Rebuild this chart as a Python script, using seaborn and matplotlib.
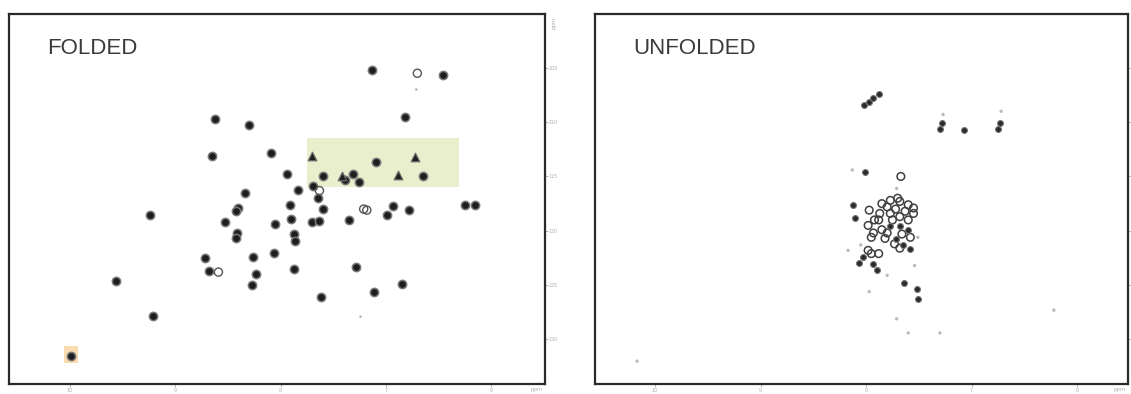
import numpy as np
import pandas as pd
import matplotlib
matplotlib.use("Agg")
import matplotlib.pyplot as plt
import seaborn as sns

# ---------------- data (1H ppm, 15N ppm) ----------------
# FOLDED spectrum peaks
folded_h = [7.13, 6.46, 8.62, 8.30, 6.82, 8.65, 8.09, 7.09, 7.94, 7.60, 7.39, 7.31, 7.25, 6.65,
            8.34, 7.83, 7.69, 7.64, 9.24, 8.40, 8.42, 7.91, 7.60, 6.93, 6.99, 6.78, 6.25, 6.15,
            8.53, 8.05, 7.90, 7.70, 7.63, 7.35, 8.41, 8.42, 7.87, 7.86, 8.06, 8.72, 8.26, 8.68,
            8.23, 7.87, 7.28, 9.56, 8.27, 6.85, 7.11, 7.62, 9.21, 9.99]
folded_n = [105.2, 105.7, 109.7, 110.3, 109.5, 113.1, 112.8, 113.7, 114.8, 115.0, 115.3, 114.8, 115.5, 115.0,
            116.5, 116.2, 115.9, 117.0, 118.5, 117.9, 118.2, 117.6, 118.0, 117.7, 118.5, 118.1, 117.6, 117.6,
            119.2, 119.4, 118.9, 119.2, 119.1, 119.0, 120.2, 120.7, 120.3, 120.9, 122.0, 122.5, 122.4, 123.7,
            124.0, 123.5, 123.3, 124.6, 125.0, 124.9, 125.6, 126.1, 127.8, 131.5]
# peaks drawn with an upward tail (sharp side-chain peaks)
folded_tail_h = [7.70, 6.72, 7.42, 6.88]
folded_tail_n = [113.1, 113.2, 115.0, 114.9]
# open (weak, ring-only) peaks
folded_open_h = [6.70, 7.63, 7.21, 7.18, 8.59]
folded_open_n = [105.5, 116.3, 118.0, 118.1, 123.8]
# faint specks
folded_faint_h = [6.71, 7.24]
folded_faint_n = [107.0, 127.9]

# highlighted regions [h_left, h_right, n_top, n_bottom]
region_green = [7.75, 6.30, 111.5, 116.0]
region_orange = [10.06, 9.92, 130.6, 132.2]

# UNFOLDED spectrum peaks (strong / medium rings / faint tails and specks)
unf_strong_h = [8.02, 7.97, 7.93, 7.88, 7.30, 7.28, 7.07, 6.75, 6.73, 8.01, 8.12, 8.10,
                7.77, 7.68, 7.60, 7.90, 7.72, 7.65, 7.58, 8.03, 8.07, 7.93, 7.64, 7.52, 7.51]
unf_strong_n = [108.4, 108.1, 107.8, 107.4, 110.6, 110.1, 110.7, 110.6, 110.1, 114.6, 117.6, 118.8,
                119.6, 119.6, 119.9, 123.6, 120.8, 121.3, 121.7, 122.4, 123.0, 123.1, 124.8, 125.4, 126.3]
unf_medium_h = [7.67, 7.97, 7.85, 7.77, 7.68, 7.60, 7.55, 7.60, 7.68, 7.77, 7.87, 7.92,
                7.98, 7.93, 7.85, 7.82, 7.68, 7.98, 7.95, 7.88,
                7.80, 7.72, 7.63, 7.88, 7.75, 7.66, 7.58, 7.80, 7.95, 7.73, 7.55, 7.70]
unf_medium_n = [115.0, 118.1, 117.5, 117.2, 117.3, 117.6, 118.4, 119.0, 118.7, 118.4, 118.4, 119.0,
                119.5, 120.2, 119.9, 120.7, 121.6, 121.8, 122.1, 122.1,
                117.8, 118.0, 118.2, 119.0, 119.0, 120.3, 120.6, 120.2, 120.6, 121.2, 117.9, 117.0]
unf_faint_h = [8.13, 7.71, 8.05, 8.17, 7.80, 7.54, 7.51, 7.97, 7.71, 7.60, 7.30, 6.22, 10.17,
               7.27, 6.72]
unf_faint_n = [114.4, 116.1, 121.3, 121.8, 124.1, 123.2, 120.6, 125.6, 128.1, 129.4, 129.4, 127.3, 132.0,
               109.3, 109.0]

x_ticks = [10, 9, 8, 7, 6]
y_ticks = [105, 110, 115, 120, 125, 130]
titles = ["FOLDED", "UNFOLDED"]

# ---------------- figure ----------------
sns.set_theme(style="white")
plt.rcParams['font.family'] = ['Liberation Sans', 'DejaVu Sans']

W, H = 1131, 394
fig = plt.figure(figsize=(W / 100, H / 100), dpi=100)
ax1 = fig.add_axes([9 / W, 10 / H, 536 / W, 370.5 / H])
ax2 = fig.add_axes([595 / W, 10 / H, 533 / W, 370.5 / H])

YLIM = (134.1, 100.0)


def style_axes(ax, title, xlim, show_y):
    ax.set_xlim(*xlim)
    ax.set_ylim(*YLIM)
    for s in ax.spines.values():
        s.set_color('#2a2a2a')
        s.set_linewidth(1.6)
    ax.set_xticks(x_ticks)
    ax.set_xticklabels([str(t) for t in x_ticks])
    ax.set_yticks(y_ticks)
    ax.yaxis.tick_right()
    if show_y:
        ax.set_yticklabels([str(t) for t in y_ticks])
    else:
        ax.set_yticklabels([])
    ax.tick_params(axis='both', direction='out', length=2, width=0.6, colors='#aaaaaa',
                   labelsize=4, labelcolor='#b5b5b5', pad=0.8,
                   bottom=True, right=True, left=False, top=False)
    ax.set_xlabel("")
    ax.set_ylabel("")
    ax.text(0.072, 0.935, title, transform=ax.transAxes, ha='left', va='top',
            fontsize=16, color='#3a3a3a')
    ax.text(0.995, -0.009, "ppm", transform=ax.transAxes, ha='right', va='top',
            fontsize=4.5, color='#b5b5b5')
    if show_y:
        ax.text(1.012, 0.99, "ppm", transform=ax.transAxes, ha='left', va='top',
                fontsize=4.5, color='#b5b5b5', rotation=90)


# ---- FOLDED ----
g = region_green
ax1.fill_between([g[0], g[1]], g[2], g[3], color='#e9efcc', lw=0, zorder=0)
o = region_orange
ax1.fill_between([o[0], o[1]], o[2], o[3], color='#fbdcb0', lw=0, zorder=0)

df_f = pd.DataFrame({'h': folded_h, 'n': folded_n})
sns.scatterplot(data=df_f, x='h', y='n', ax=ax1, s=36, color='#1e1e1e',
                edgecolor='#7a7a7a', linewidth=1.1, zorder=3)
df_t = pd.DataFrame({'h': folded_tail_h, 'n': folded_tail_n})
sns.scatterplot(data=df_t, x='h', y='n', ax=ax1, s=38, marker='^', color='#1e1e1e',
                edgecolor='#6a6a6a', linewidth=0.9, zorder=3)
df_o = pd.DataFrame({'h': folded_open_h, 'n': folded_open_n})
sns.scatterplot(data=df_o, x='h', y='n', ax=ax1, s=34, marker='o', facecolor='none',
                edgecolor='#555555', linewidth=1.0, zorder=3)
df_ff = pd.DataFrame({'h': folded_faint_h, 'n': folded_faint_n})
sns.scatterplot(data=df_ff, x='h', y='n', ax=ax1, s=3, color='#aaaaaa',
                edgecolor='none', zorder=3)
style_axes(ax1, titles[0], (10.58, 5.487), True)

# ---- UNFOLDED ----
df_um = pd.DataFrame({'h': unf_medium_h, 'n': unf_medium_n})
sns.scatterplot(data=df_um, x='h', y='n', ax=ax2, s=30, facecolor='none',
                edgecolor='#404040', linewidth=1.1, zorder=3)
df_us = pd.DataFrame({'h': unf_strong_h, 'n': unf_strong_n})
sns.scatterplot(data=df_us, x='h', y='n', ax=ax2, s=18, color='#2a2a2a',
                edgecolor='#777777', linewidth=0.8, zorder=4)
df_uf = pd.DataFrame({'h': unf_faint_h, 'n': unf_faint_n})
sns.scatterplot(data=df_uf, x='h', y='n', ax=ax2, s=6, color='#bbbbbb',
                edgecolor='none', zorder=3)
style_axes(ax2, titles[1], (10.569, 5.517), False)

fig.savefig("out.png", dpi=100)
